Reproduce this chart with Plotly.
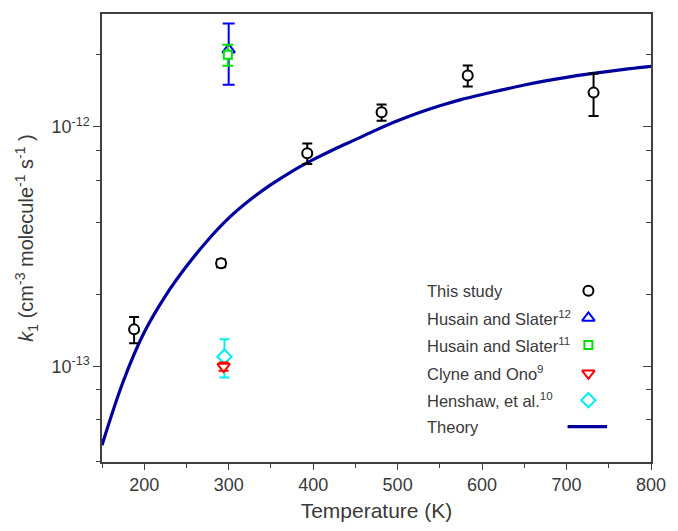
import plotly.graph_objects as go

# ---- data ----
# This study
t_this = [188, 291, 393, 481, 583, 732]
k_this = [1.43e-13, 2.70e-13, 7.76e-13, 1.15e-12, 1.64e-12, 1.39e-12]
e_this = [0.18e-13, 0.10e-13, 0.76e-13, 0.09e-12, 0.165e-12, 0.28e-12]

# Literature values near room temperature
t_hs12 = [300]
k_hs12 = [2.1e-12]
e_hs12 = [0.6e-12]

t_hs11 = [299]
k_hs11 = [2.0e-12]
e_hs11 = [0.2e-12]

t_co = [294]
k_co = [1.0e-13]
e_co = [0.04e-13]

t_hen = [295]
k_hen = [1.1e-13]
e_hen = [0.2e-13]

# Theoretical rate constant
t_theory = [150, 175, 200, 225, 250, 275, 300, 325, 350, 375, 400, 425, 450,
            475, 500, 525, 550, 575, 600, 625, 650, 675, 700, 725, 750, 775, 800]
k_theory = [0.47e-13, 0.865e-13, 1.39e-13, 1.97e-13, 2.62e-13, 3.36e-13,
            4.16e-13, 4.95e-13, 5.74e-13, 6.53e-13, 7.30e-13, 8.07e-13,
            8.85e-13, 9.72e-13, 10.6e-13, 11.45e-13, 12.25e-13, 13.0e-13,
            13.65e-13, 14.3e-13, 14.95e-13, 15.55e-13, 16.1e-13, 16.6e-13,
            17.05e-13, 17.5e-13, 17.9e-13]

x_ticks = [200, 300, 400, 500, 600, 700, 800]
y_ticks = [1e-13, 1e-12]
y_ticktext = ["10<sup>-13</sup>", "10<sup>-12</sup>"]
y_minor = [4e-14, 6e-14, 8e-14, 2e-13, 4e-13, 6e-13, 8e-13, 2e-12]

legend_names = ["This study", "Husain and Slater<sup>12</sup>",
                "Husain and Slater<sup>11</sup>", "Clyne and Ono<sup>9</sup>",
                "Henshaw, et al.<sup>10</sup>", "Theory"]

FONT = "Arial, Liberation Sans, sans-serif"
TXT = "#3a3a3a"
AX = "#404040"
NAVY = "#00009c"

fig = go.Figure()

fig.add_trace(go.Scatter(
    x=t_theory, y=k_theory, mode="lines",
    line=dict(color=NAVY, width=3.2, shape="spline", smoothing=1.0),
    showlegend=False, hoverinfo="skip"))


def pts(x, y, e, color, symbol, size, capw, yaxis="y"):
    return go.Scatter(
        x=x, y=y, mode="markers", yaxis=yaxis,
        error_y=dict(type="data", array=e, visible=True, color=color,
                     thickness=2, width=capw),
        marker=dict(symbol=symbol, size=size, color="white",
                    line=dict(color=color, width=2)),
        showlegend=False)


fig.add_trace(pts(t_hs12, k_hs12, e_hs12, "#0000ff", "triangle-up", 11, 6))
fig.add_trace(pts(t_hs11, k_hs11, e_hs11, "#00e000", "square", 8, 5.5))
fig.add_trace(pts(t_hen, k_hen, e_hen, "#00f0f0", "diamond", 11, 5))
fig.add_trace(pts(t_co, k_co, e_co, "#ff0000", "triangle-down", 11, 5))
fig.add_trace(pts(t_this, k_this, e_this, "#000000", "circle", 10, 5, yaxis="y2"))

# Legend keys on an overlay in plot-fraction units
key_x = 0.886
row_y = [0.382, 0.3215, 0.261, 0.198, 0.138, 0.079]
key_styles = [("circle", "#000000", 10), ("triangle-up", "#0000ff", 11),
              ("square", "#00e000", 8), ("triangle-down", "#ff0000", 11),
              ("diamond", "#00f0f0", 11)]
for (sym, col, sz), ry in zip(key_styles, row_y[:5]):
    fig.add_trace(go.Scatter(
        x=[key_x], y=[ry], xaxis="x2", yaxis="y3", mode="markers",
        marker=dict(symbol=sym, size=sz, color="white", line=dict(color=col, width=2)),
        showlegend=False, hoverinfo="skip"))
fig.add_trace(go.Scatter(
    x=[0.848, 0.920], y=[row_y[5], row_y[5]], xaxis="x2", yaxis="y3", mode="lines",
    line=dict(color=NAVY, width=3.2), showlegend=False, hoverinfo="skip"))

annotations = []
for name, ry in zip(legend_names, row_y):
    annotations.append(dict(
        x=0.588, y=ry, xref="paper", yref="paper", text=name, showarrow=False,
        xanchor="left", yanchor="middle", font=dict(family=FONT, size=16.5, color=TXT)))

yrange = [-13.398, -11.529]
common_y = dict(type="log", range=yrange, tickvals=y_ticks, showgrid=False,
                zeroline=False, tickcolor=AX, tickwidth=1.3,
                minor=dict(tickvals=y_minor, ticklen=4, tickcolor=AX, tickwidth=1.3, showgrid=False))

fig.update_layout(
    width=678, height=531,
    margin=dict(l=102, r=16, t=14, b=66),
    paper_bgcolor="white", plot_bgcolor="white",
    font=dict(family=FONT, color=TXT),
    xaxis=dict(range=[150, 800], tickvals=x_ticks, ticks="outside", ticklen=6,
               tickcolor=AX, tickwidth=1.3, showline=True, linecolor=AX, linewidth=1.5,
               mirror=True, showgrid=False, zeroline=False,
               minor=dict(tick0=150, dtick=50, ticks="outside", ticklen=4,
                          tickcolor=AX, tickwidth=1.3, showgrid=False),
               tickfont=dict(family=FONT, size=18, color=TXT),
               title=dict(text="Temperature (K)", font=dict(family=FONT, size=21, color=TXT),
                          standoff=9)),
    yaxis=dict(**common_y, ticks="outside", ticklen=7, showline=True, linecolor=AX,
               linewidth=1.5, mirror=True, ticktext=y_ticktext,
               tickfont=dict(family=FONT, size=18, color=TXT),
               title=dict(text="<i>k</i><sub>1</sub> (cm<sup>-3</sup> molecule<sup>-1</sup> s<sup>-1</sup> )",
                          font=dict(family=FONT, size=20, color=TXT), standoff=12)),
    yaxis2=dict(**common_y, overlaying="y", side="right", anchor="x", ticks="inside",
                ticklen=8, showticklabels=False, showline=False),
    xaxis2=dict(overlaying="x", range=[0, 1], visible=False),
    yaxis3=dict(overlaying="y", range=[0, 1], visible=False, anchor="x2"),
    annotations=annotations,
)
fig.layout.yaxis2.minor.ticks = "inside"
fig.layout.yaxis2.minor.ticklen = 5
fig.layout.yaxis.minor.ticks = "outside"

fig.write_html("out.html")
